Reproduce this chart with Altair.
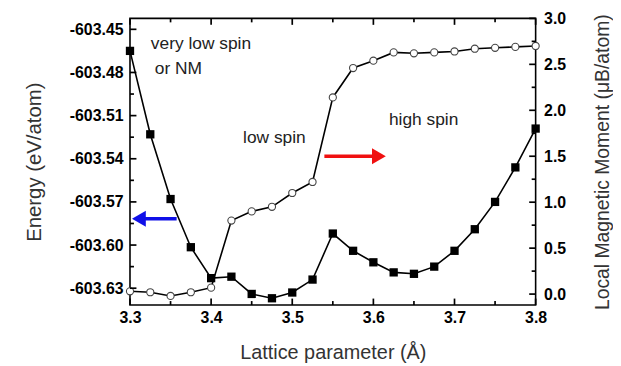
import altair as alt
import pandas as pd

# ---- data ----
lattice = [3.3, 3.325, 3.35, 3.375, 3.4, 3.425, 3.45, 3.475, 3.5, 3.525, 3.55,
           3.575, 3.6, 3.625, 3.65, 3.675, 3.7, 3.725, 3.75, 3.775, 3.8]
energy = [-603.465, -603.523, -603.568, -603.6015, -603.623, -603.622, -603.634,
          -603.637, -603.633, -603.624, -603.592, -603.604, -603.612, -603.619,
          -603.620, -603.615, -603.604, -603.589, -603.570, -603.546, -603.519]
moment = [0.03, 0.02, -0.02, 0.02, 0.07, 0.80, 0.90, 0.95, 1.10, 1.22, 2.14,
          2.46, 2.54, 2.63, 2.62, 2.63, 2.64, 2.67, 2.68, 2.69, 2.70]

x_major = [3.3, 3.4, 3.5, 3.6, 3.7, 3.8]
x_minor = [3.35, 3.45, 3.55, 3.65, 3.75]
e_major = [-603.63, -603.60, -603.57, -603.54, -603.51, -603.48, -603.45]
e_minor = [-603.615, -603.585, -603.555, -603.525, -603.495, -603.465]
m_major = [0.0, 0.5, 1.0, 1.5, 2.0, 2.5, 3.0]
m_minor = [0.25, 0.75, 1.25, 1.75, 2.25, 2.75]

labels_text = ["very low spin", "or NM", "low spin", "high spin"]
labels_x = [3.3257, 3.3306, 3.4394, 3.6191]
labels_y = [-603.4603, -603.4776, -603.5259, -603.5128]

arrow_color = ["#1010e8", "#f01010"]
arrow_x = [3.3575, 3.5396]
arrow_x2 = [3.3110, 3.6068]
arrow_y = [-603.5817, -603.5383]
arrow_shape = ["triangle-left", "triangle-right"]

x_domain = [3.3, 3.8]
e_domain = [-603.6417, -603.4424]
m_domain = [-0.119, 3.0]

W, H = 409, 289
MAJ, MIN = 6.5, 4

df = pd.DataFrame({"a": lattice, "E": energy, "M": moment})
df_lab = pd.DataFrame({"t": labels_text, "x": labels_x, "y": labels_y})
df_arr = pd.DataFrame({"c": arrow_color, "x": arrow_x, "x2": arrow_x2,
                       "y": arrow_y, "s": arrow_shape})

xs = alt.Scale(domain=x_domain, nice=False, zero=False)
es = alt.Scale(domain=e_domain, nice=False, zero=False)
ms = alt.Scale(domain=m_domain, nice=False, zero=False)

base = alt.Chart(df)

energy_layer = base.mark_line(
    color="black", strokeWidth=1.6,
    point=alt.OverlayMarkDef(shape="square", size=70, filled=True, color="black"),
).encode(
    x=alt.X("a:Q", scale=xs,
            axis=alt.Axis(orient="bottom", values=x_major, format=".1f",
                          ticks=False, tickSize=0, domain=False, grid=False,
                          labelFlush=False, labelPadding=5,
                          title="Lattice parameter (Å)", titlePadding=17,
                          titleFontSize=20)),
    y=alt.Y("E:Q", scale=es,
            axis=alt.Axis(orient="left", values=e_major, ticks=False, tickSize=0,
                          domain=False, grid=False, labelFlush=False,
                          labelExpr="replace(format(datum.value, '.2f'), '\u2212', '-')",
                          labelPadding=7, title="Energy (eV/atom)",
                          titlePadding=25, titleFontSize=20.5)),
)

moment_layer = base.mark_line(
    color="black", strokeWidth=1.6,
    point=alt.OverlayMarkDef(shape="circle", size=52, filled=True, fill="white",
                             stroke="#444444", strokeWidth=1.1),
).encode(
    x=alt.X("a:Q", scale=xs, axis=None),
    y=alt.Y("M:Q", scale=ms,
            axis=alt.Axis(orient="right", values=m_major, format=".1f",
                          ticks=False, tickSize=0, domain=False, grid=False,
                          labelFlush=False, labelPadding=8,
                          title="Local Magnetic Moment (μB/atom)",
                          titleAngle=270, titleBaseline="top",
                          titlePadding=28, titleFontSize=19.5)),
)


def x_ticks(values, size, top):
    d = pd.DataFrame({"v": values})
    y0, y1 = (0, size) if top else (H, H - size)
    return alt.Chart(d).mark_rule(color="black", strokeWidth=1.7).encode(
        x=alt.X("v:Q", scale=xs, axis=None),
        y=alt.value(y0), y2=alt.value(y1),
    )


def y_ticks(values, size, scale, right):
    d = pd.DataFrame({"v": values})
    x0, x1 = (W, W - size) if right else (0, size)
    return alt.Chart(d).mark_rule(color="black", strokeWidth=1.7).encode(
        y=alt.Y("v:Q", scale=scale, axis=None),
        x=alt.value(x0), x2=alt.value(x1),
    )


tick_layers = [
    x_ticks(x_major, MAJ, False), x_ticks(x_minor, MIN, False),
    x_ticks(x_major, MAJ, True), x_ticks(x_minor, MIN, True),
    y_ticks(e_major, MAJ, es, False), y_ticks(e_minor, MIN, es, False),
    y_ticks(m_major, MAJ, ms, True), y_ticks(m_minor, MIN, ms, True),
]

text_layer = alt.Chart(df_lab).mark_text(
    align="left", baseline="middle", font="Liberation Sans", fontSize=17.5,
    color="#222222",
).encode(
    x=alt.X("x:Q", scale=xs, axis=None),
    y=alt.Y("y:Q", scale=es, axis=None),
    text="t:N",
)

arrow_lines = alt.Chart(df_arr).mark_rule(strokeWidth=3.5).encode(
    x=alt.X("x:Q", scale=xs, axis=None),
    x2="x2:Q",
    y=alt.Y("y:Q", scale=es, axis=None),
    color=alt.Color("c:N", scale=None),
)
arrow_heads = alt.Chart(df_arr).mark_point(filled=True, size=260, opacity=1).encode(
    x=alt.X("x2:Q", scale=xs, axis=None),
    y=alt.Y("y:Q", scale=es, axis=None),
    color=alt.Color("c:N", scale=None),
    shape=alt.Shape("s:N", scale=None),
)

chart = alt.layer(
    energy_layer, moment_layer, text_layer, arrow_lines, arrow_heads,
    *tick_layers,
).resolve_scale(y="independent").resolve_axis(x="independent", y="independent").properties(
    width=W, height=H,
    autosize=alt.AutoSizeParams(type="none"),
    padding={"left": 123, "top": 9, "right": 78, "bottom": 60},
    background="white",
).configure_view(
    stroke="black", strokeWidth=1.6,
).configure_axis(
    labelFont="Liberation Sans", labelFontWeight="bold", labelFontSize=16,
    labelColor="black", titleFont="Liberation Sans", titleFontSize=18,
    titleFontWeight="normal", titleColor="#333333",
)

chart.save("out.html", embed_options={"renderer": "svg", "actions": False})
